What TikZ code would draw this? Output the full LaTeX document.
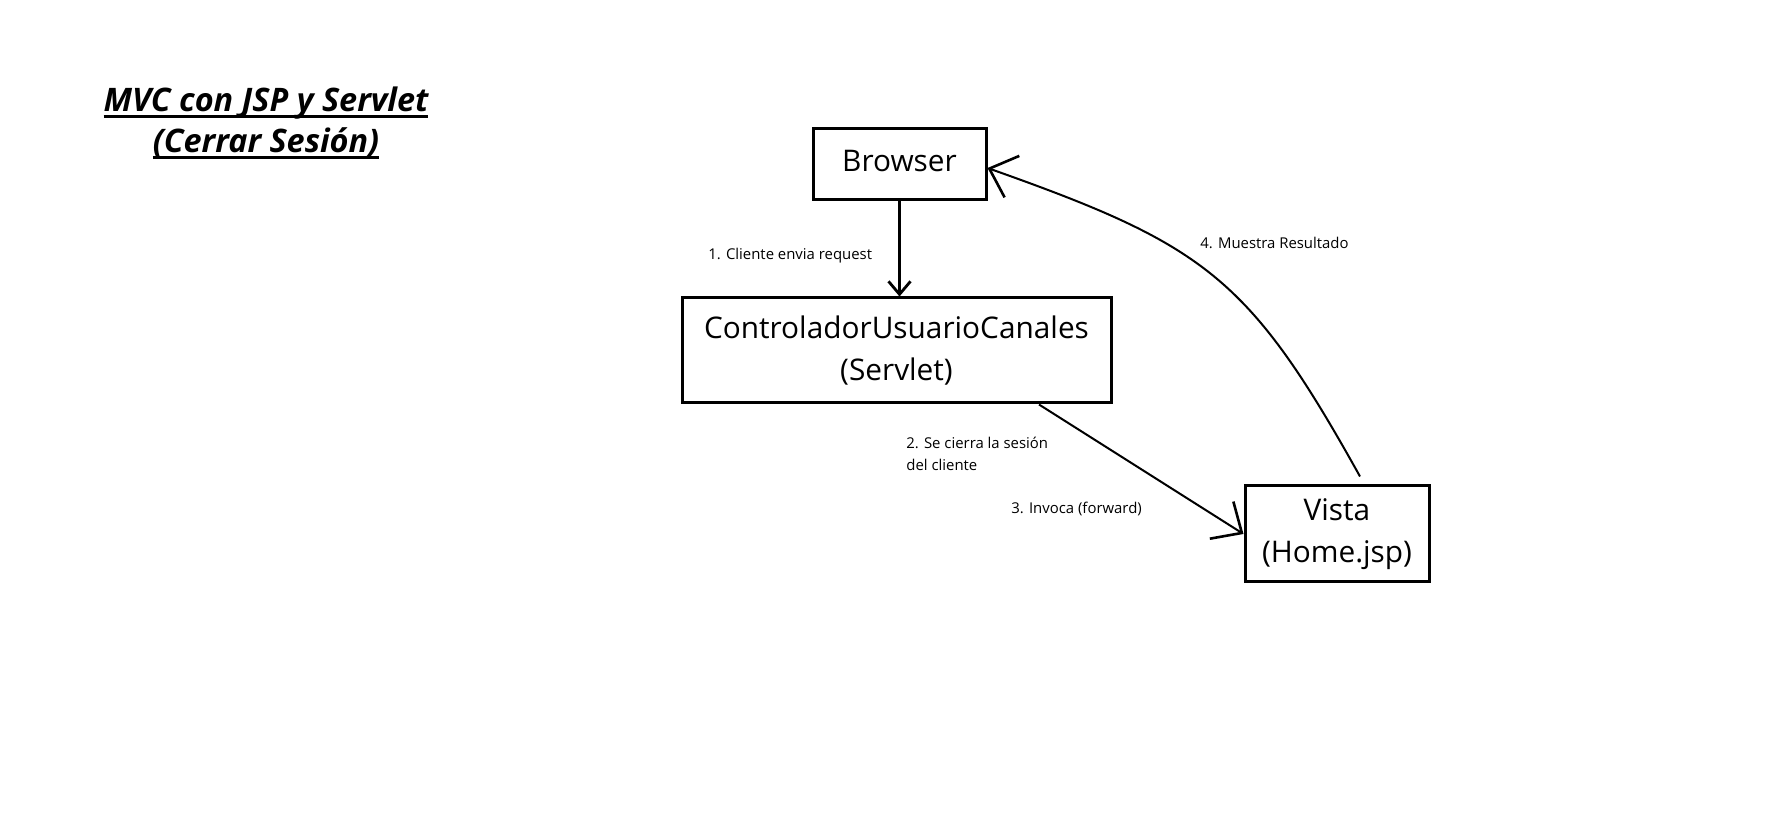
\documentclass[tikz,border=0pt]{standalone}
\usepackage{fontspec}
\setmainfont{Open Sans}
\usetikzlibrary{arrows.meta,positioning}
\newcommand{\subrayado}[1]{\setbox0\hbox{#1}\leavevmode\rlap{\rule[-2.9pt]{\wd0}{1.3pt}}\box0}

\begin{document}
\begin{tikzpicture}[
            x=0.5pt,y=-0.5pt,
            caja/.style={draw,rectangle,line width=1.5pt,inner sep=0pt,align=center,font=\fontsize{14.9}{21}\selectfont},
            etiqueta/.style={anchor=west,align=left,inner sep=0pt,font=\fontsize{7.45}{11}\selectfont},
            flecha/.style={draw,line width=1pt,-{Straight Barb[length=12pt,width=22pt,line width=1.3pt]}},
            flechacorta/.style={draw,line width=1.4pt,-{Straight Barb[length=6.5pt,width=11pt,line width=1.4pt]}}
          ]
          \useasboundingbox (0,0) rectangle (1785,838);

          %titulo
          \node[align=center,font=\fontsize{16.2}{20.5}\selectfont\bfseries\itshape] (titulo) at (266,123)
            {\subrayado{MVC con JSP y Servlet}\\\subrayado{(Cerrar Sesión)}};

          %cajas
          \node[caja,text depth=3.4pt,minimum width=86.5pt,minimum height=35.5pt] (browser) at (899.5,164.5) {Browser};
          \node[caja,below=47.5pt of browser,xshift=-1.5pt,minimum width=214.5pt,minimum height=52.5pt] (ctrl) {ControladorUsuarioCanales\\(Servlet)};
          \node[caja,minimum width=92pt,minimum height=48pt] (vista) at (1337,534) {Vista\\(Home.jsp)};

          %etiquetas
          \node[etiqueta] (l1) at (708,255.5) {1. Cliente envia request};
          \node[etiqueta] (l2) at (906,454) {2. Se cierra la sesión\\del cliente};
          \node[etiqueta] (l3) at (1011,509) {3. Invoca (forward)};
          \node[etiqueta] (l4) at (1200,243) {4. Muestra Resultado};

          %flechas
          \path[flechacorta] (browser.south) -- (browser.south |- ctrl.north);
          \path[flecha] ([xshift=71.25pt]ctrl.south) -- (vista.west);
          \path[flecha] ([xshift=11.5pt,yshift=4pt]vista.north)
            .. controls (1249,277) and (1205,245) .. ([yshift=-1.75pt]browser.east);

      \end{tikzpicture}
\end{document}
